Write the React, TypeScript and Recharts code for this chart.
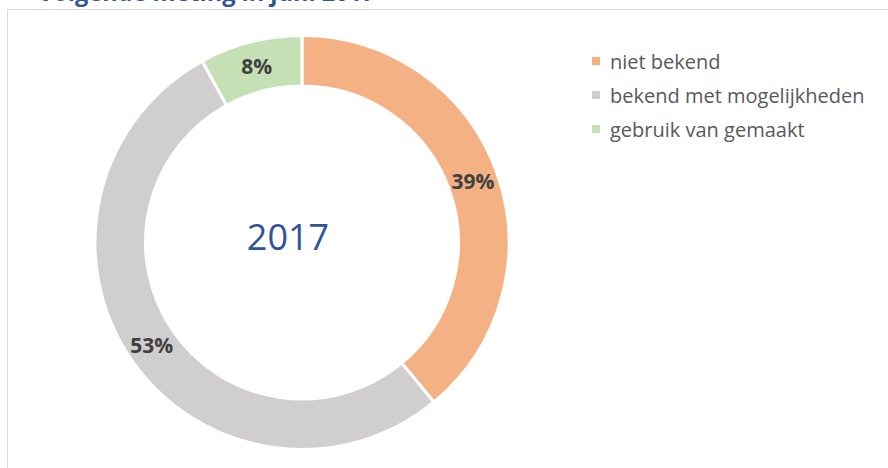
import React from "react";
import { PieChart, Pie, Cell } from "recharts";

const categories = ["niet bekend", "bekend met mogelijkheden", "gebruik van gemaakt"];
const shares = [39, 53, 8];
const colors = ["#F4B183", "#D0CECE", "#C5E0B4"];
const title = "Volgende meting in juni 2017";
const centerText = "2017";

const data = categories.map((name, i) => ({ name, value: shares[i] }));

const FONT = "'Open Sans', 'Noto Sans', sans-serif";
const RAD = Math.PI / 180;
const CX = 302;
const CY = 242.5;

// percentage label sits in the middle of the ring
const renderLabel = (props: any) => {
  const { cx, cy, midAngle, innerRadius, outerRadius, value } = props;
  const r = (innerRadius + outerRadius) / 2;
  const x = cx + r * Math.cos(-midAngle * RAD);
  const y = cy + r * Math.sin(-midAngle * RAD);
  return (
    <text
      x={x}
      y={y}
      textAnchor="middle"
      dominantBaseline="central"
      fill="#404040"
      fontFamily={FONT}
      fontWeight={700}
      fontSize={21}
    >
      {`${value}%`}
    </text>
  );
};

export default function App() {
  return (
    <div
      style={{
        position: "fixed",
        left: 0,
        top: 0,
        width: 888,
        height: 468,
        overflow: "hidden",
        background: "#fff",
      }}
    >
      <div
        style={{
          position: "absolute",
          left: 38,
          top: -23,
          fontFamily: FONT,
          fontWeight: 700,
          fontSize: 23.5,
          color: "#2F5597",
          whiteSpace: "nowrap",
          lineHeight: "30px",
        }}
      >
        {title}
      </div>
      <div
        style={{
          position: "absolute",
          left: 7,
          top: 9,
          width: 920,
          height: 520,
          border: "1px solid #D9D9D9",
        }}
      />
      <div style={{ position: "absolute", left: 0, top: 0 }}>
        <PieChart width={888} height={468} margin={{ top: 0, right: 0, bottom: 0, left: 0 }}>
          <Pie
            data={data}
            dataKey="value"
            nameKey="name"
            cx={CX}
            cy={CY}
            innerRadius={156.5}
            outerRadius={207}
            startAngle={90}
            endAngle={-270}
            stroke="#fff"
            strokeWidth={3}
            label={renderLabel}
            labelLine={false}
            isAnimationActive={false}
          >
            {data.map((d, i) => (
              <Cell key={d.name} fill={colors[i]} />
            ))}
          </Pie>
          <text
            x={CX - 14}
            y={CY - 6}
            textAnchor="middle"
            dominantBaseline="central"
            fill="#2F5597"
            fontFamily={FONT}
            fontSize={36}
          >
            {centerText}
          </text>
        </PieChart>
      </div>
      <div
        style={{
          position: "absolute",
          left: 592,
          top: 44,
          fontFamily: FONT,
          fontSize: 20,
          color: "#595959",
        }}
      >
        {categories.map((name, i) => (
          <div key={name} style={{ display: "flex", alignItems: "center", height: 34 }}>
            <span
              style={{
                display: "inline-block",
                width: 8,
                height: 8,
                background: colors[i],
                marginRight: 10,
              }}
            />
            <span>{name}</span>
          </div>
        ))}
      </div>
    </div>
  );
}
